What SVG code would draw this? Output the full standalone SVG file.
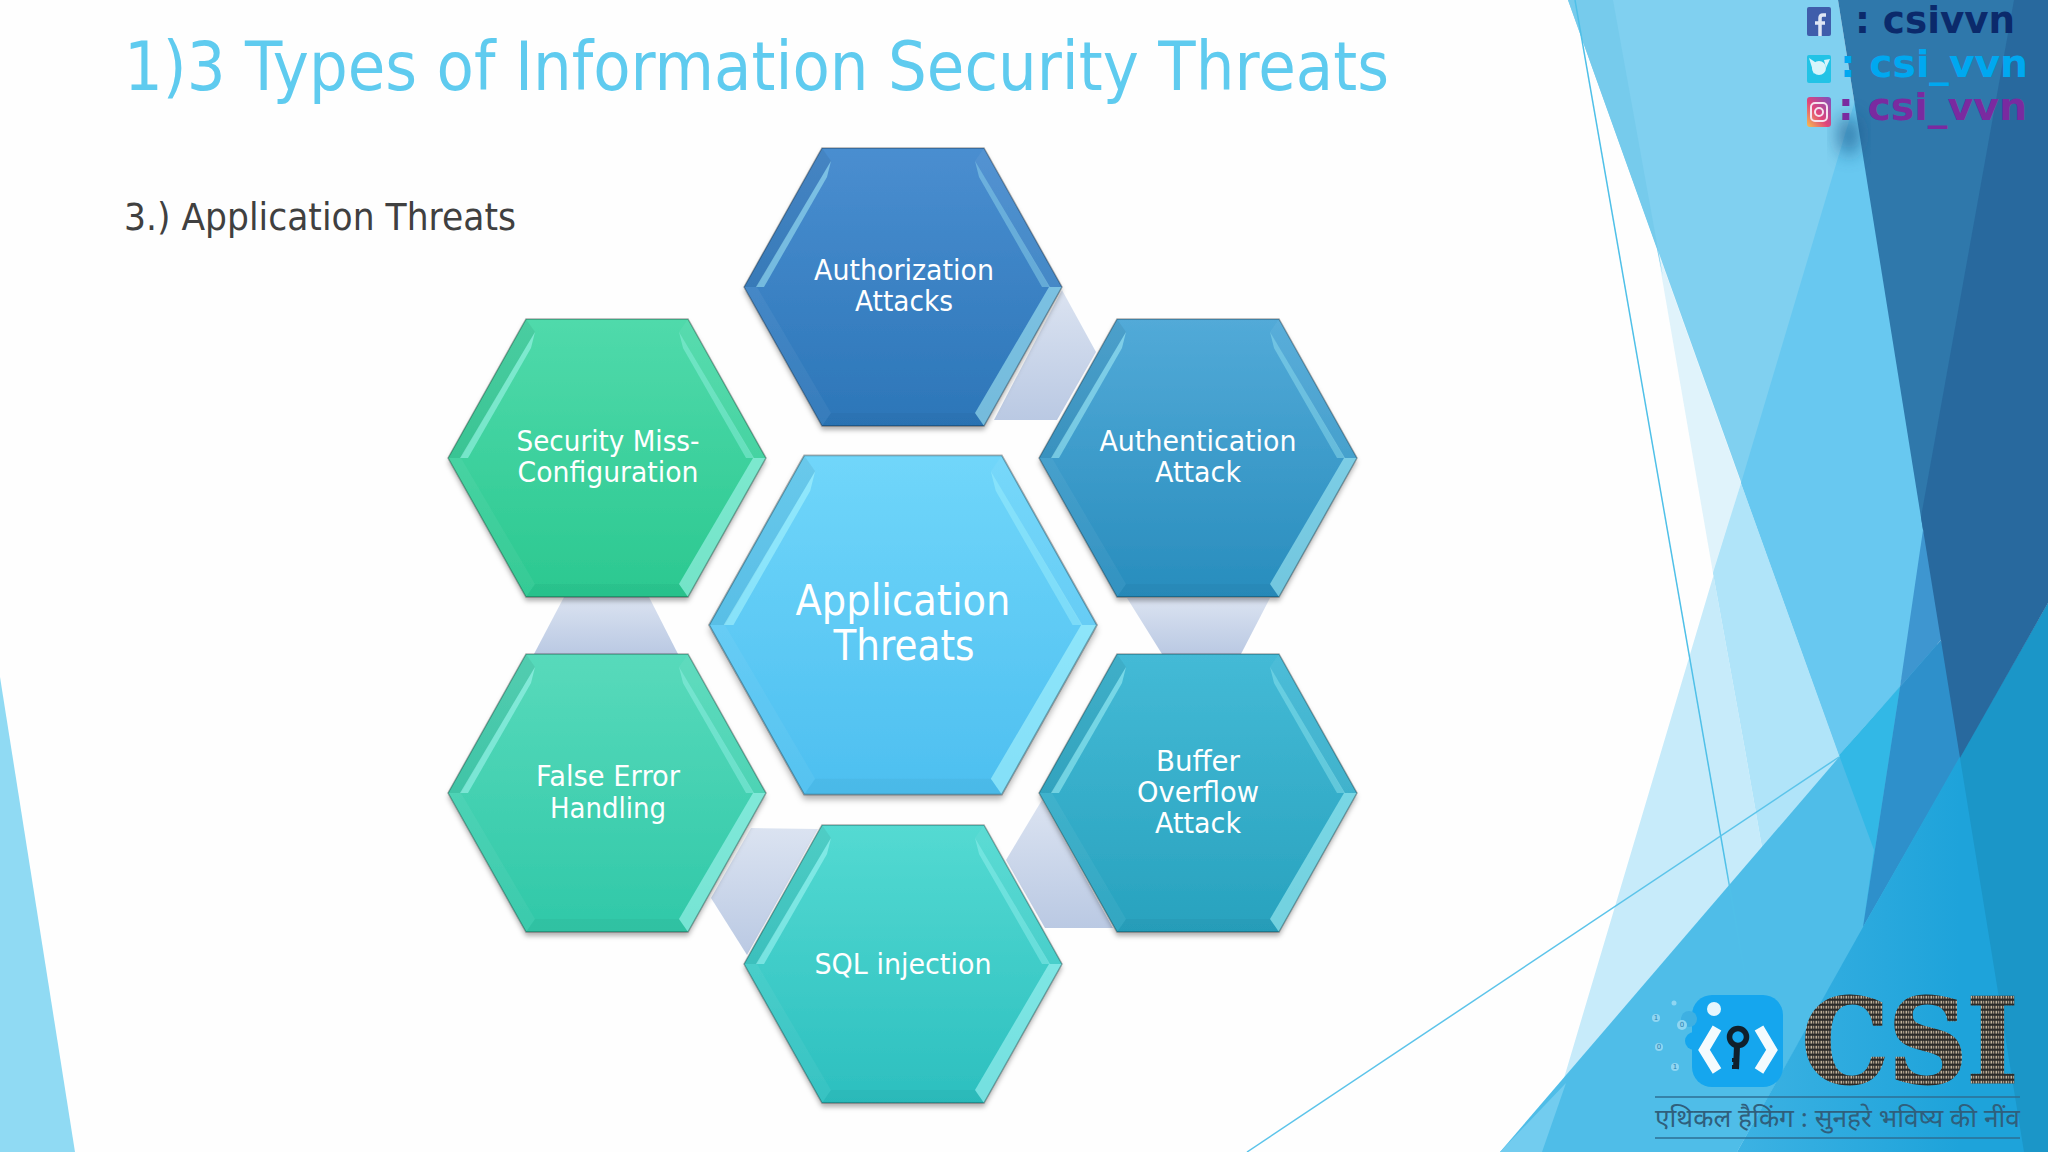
<svg xmlns="http://www.w3.org/2000/svg" width="2048" height="1152" viewBox="0 0 2048 1152">
<style>
.t{font-family:"DejaVu Sans",sans-serif;text-anchor:middle;fill:#fff;font-size:28px}
.c{font-size:42px}
.s{font-family:"DejaVu Sans",sans-serif;font-weight:700;font-size:38px}
.d{font-family:"DejaVu Sans",sans-serif;font-size:7px;text-anchor:middle;fill:#2a7fb0}
.w{fill:url(#wedge)}
.bit{fill:#8fd6f2}
</style>
<defs>
<linearGradient id="wedge" x1="0" y1="0" x2="0" y2="1"><stop offset="0" stop-color="#dbe3f1"/><stop offset="1" stop-color="#bac9e3"/></linearGradient>
<linearGradient id="gA" x1="0" y1="0" x2="0" y2="1"><stop offset="0" stop-color="#4a8ed0"/><stop offset="1" stop-color="#2c76b8"/></linearGradient>
<linearGradient id="gB" x1="0" y1="0" x2="0" y2="1"><stop offset="0" stop-color="#52aad8"/><stop offset="1" stop-color="#288dbd"/></linearGradient>
<linearGradient id="gC" x1="0" y1="0" x2="0" y2="1"><stop offset="0" stop-color="#44bad6"/><stop offset="1" stop-color="#28a2be"/></linearGradient>
<linearGradient id="gD" x1="0" y1="0" x2="0" y2="1"><stop offset="0" stop-color="#54dad2"/><stop offset="1" stop-color="#2cbfbf"/></linearGradient>
<linearGradient id="gE" x1="0" y1="0" x2="0" y2="1"><stop offset="0" stop-color="#58dabb"/><stop offset="1" stop-color="#30c8a8"/></linearGradient>
<linearGradient id="gF" x1="0" y1="0" x2="0" y2="1"><stop offset="0" stop-color="#50daab"/><stop offset="1" stop-color="#2bc890"/></linearGradient>
<linearGradient id="gG" x1="0" y1="0" x2="0" y2="1"><stop offset="0" stop-color="#70d6fa"/><stop offset="1" stop-color="#4dbff0"/></linearGradient>
<linearGradient id="ig" x1="0" y1="1" x2="1" y2="0"><stop offset="0" stop-color="#f6c050"/><stop offset=".45" stop-color="#e0457a"/><stop offset="1" stop-color="#7a50c0"/></linearGradient>
<linearGradient id="fade" gradientUnits="userSpaceOnUse" x1="1575" y1="0" x2="1750" y2="1004"><stop offset="0" stop-color="#4fc0e8"/><stop offset=".86" stop-color="#4fc0e8"/><stop offset="1" stop-color="#4fc0e8" stop-opacity="0"/></linearGradient>
<linearGradient id="low" gradientUnits="userSpaceOnUse" x1="1737" y1="1000" x2="1960" y2="1000"><stop offset="0" stop-color="#3cb2e3"/><stop offset="1" stop-color="#1ea3da"/></linearGradient>
<pattern id="bin" width="5" height="5" patternUnits="userSpaceOnUse"><rect width="5" height="5" fill="#2b2a28"/><rect x=".5" y=".8" width="1.7" height="2.8" fill="#c2b39c"/><rect x="3" y=".8" width="1.3" height="2.8" fill="#a09381"/></pattern>
<filter id="sh" x="-10%" y="-10%" width="120%" height="120%"><feDropShadow dx="0" dy="4" stdDeviation="2.5" flood-color="#000" flood-opacity=".3"/></filter>
<filter id="bl" x="-50%" y="-50%" width="200%" height="200%"><feGaussianBlur stdDeviation="9"/></filter>
<g id="bevel">
<polygon points="-159,0 -81,-139 -72,-126 -146,0" fill="#000" fill-opacity=".06"/>
<polygon points="-147,0 -72,-126 -76,-110 -139,0" fill="#bff" fill-opacity=".45"/>
<polygon points="147,0 72,-126 76,-110 139,0" fill="#bff" fill-opacity=".32"/>
<polygon points="81,-139 159,0 146,0 72,-126" fill="#fff" fill-opacity=".05"/>
<polygon points="159,0 81,139 72,126 146,0" fill="#bff" fill-opacity=".5"/>
<polygon points="-159,0 -81,139 -72,126 -146,0" fill="#fff" fill-opacity=".05"/>
<polygon points="-81,139 81,139 72,126 -72,126" fill="#000" fill-opacity=".03"/>
<polygon points="-159,0 -81,-139 81,-139 159,0 81,139 -81,139" fill="none" stroke="#000" stroke-opacity=".3" stroke-width="1.5"/>
</g>
<polygon id="hx" points="-159,0 -81,-139 81,-139 159,0 81,139 -81,139"/>
</defs>
<rect width="2048" height="1152" fill="#fefefe"/>
<g id="background">
<polygon points="0,677 0,1152 75,1152" fill="#90daf3"/>
<polygon points="1657,249 1741,483 1713,573" fill="#e0f3fb"/>
<polygon points="1741,483 1542,1152 1815,1152 1745,750 1713,573" fill="#c7ebfa"/>
<polygon points="1713,573 1741,483 1839,755 1880,880 1815,1152 1745,750" fill="#b0e4f9"/>
<polygon points="1568,0 1838,0 1923,530 1900,687 1839,755" fill="#80d0f0"/>
<polygon points="1568,0 1613,0 1663,277 1657,249" fill="#76cbec"/>
<polygon points="1885,0 1930,530 1900,687 1839,755 1741,483" fill="#68c8f0"/>
<polygon points="1500,1152 1937,643 1960,758 1737,1152" fill="#4fbde8"/>
<polygon points="1500,1152 1566,1083 1542,1152" fill="#72ccef"/>
<polygon points="1839,755 1900,687 1863,927 1874,850" fill="#32b8e6"/>
<polygon points="1923,530 1950,610 1941,640 1900,687" fill="#3e96d0"/>
<polygon points="1900,687 1941,640 1975,730 1960,758 1863,927" fill="#2e90cb"/>
<polygon points="1975,730 1863,927 1737,1152 2024,1152 2048,1152 2048,603" fill="url(#low)"/>
<polygon points="2048,603 1960,758 2024,1152 2048,1152" fill="#1b96c8"/>
<polygon points="1838,0 2030,0 1950,530 1923,530" fill="#2f78ab"/>
<polygon points="2014,0 2048,0 2048,603 1960,758 1921,517" fill="#28699e"/>
<ellipse cx="1849" cy="135" rx="11" ry="20" fill="#1d5a8c" opacity=".7" filter="url(#bl)"/>
<line x1="1575" y1="0" x2="1750" y2="1004" stroke="url(#fade)" stroke-width="1.5"/>
<line x1="1247" y1="1152" x2="1839" y2="757" stroke="#5cc4ea" stroke-width="1.5"/>
</g>
<text id="title" x="124" y="90" font-family="'DejaVu Sans',sans-serif" font-size="67" fill="#5fcbef" textLength="1265" lengthAdjust="spacingAndGlyphs">1)3 Types of Information Security Threats</text>
<text id="subtitle" x="124" y="230" font-family="'DejaVu Sans',sans-serif" font-size="37" fill="#404040" textLength="392" lengthAdjust="spacingAndGlyphs">3.) Application Threats</text>
<g id="connectors">
<polygon class="w" points="1062,290 1096,352 1057,420 994,420"/>
<polygon class="w" points="1127,598 1162,654 1241,654 1270,598"/>
<polygon class="w" points="1042,800 1006,860 1045,928 1113,928"/>
<polygon class="w" points="711,898 747,955 818,829 751,828"/>
<polygon class="w" points="564,597 649,597 678,654 534,654"/>
</g>
<g id="node-application-threats"><g transform="translate(903 625) scale(1.22)"><use href="#hx" fill="url(#gG)" filter="url(#sh)"/><use href="#bevel"/></g>
<text class="t c" x="903" y="615" textLength="215" lengthAdjust="spacingAndGlyphs">Application</text><text class="t c" x="904" y="660" textLength="141" lengthAdjust="spacingAndGlyphs">Threats</text></g>
<g id="node-authorization"><g transform="translate(903 287)"><use href="#hx" fill="url(#gA)" filter="url(#sh)"/><use href="#bevel"/></g>
<text class="t" x="904" y="280" textLength="180" lengthAdjust="spacingAndGlyphs">Authorization</text><text class="t" x="904" y="311" textLength="98" lengthAdjust="spacingAndGlyphs">Attacks</text></g>
<g id="node-authentication"><g transform="translate(1198 458)"><use href="#hx" fill="url(#gB)" filter="url(#sh)"/><use href="#bevel"/></g>
<text class="t" x="1198" y="451" textLength="197" lengthAdjust="spacingAndGlyphs">Authentication</text><text class="t" x="1198" y="482" textLength="86" lengthAdjust="spacingAndGlyphs">Attack</text></g>
<g id="node-buffer"><g transform="translate(1198 793)"><use href="#hx" fill="url(#gC)" filter="url(#sh)"/><use href="#bevel"/></g>
<text class="t" x="1198" y="771" textLength="84" lengthAdjust="spacingAndGlyphs">Buffer</text><text class="t" x="1198" y="802" textLength="122" lengthAdjust="spacingAndGlyphs">Overflow</text><text class="t" x="1198" y="833" textLength="86" lengthAdjust="spacingAndGlyphs">Attack</text></g>
<g id="node-sql"><g transform="translate(903 964)"><use href="#hx" fill="url(#gD)" filter="url(#sh)"/><use href="#bevel"/></g>
<text class="t" x="903" y="974" textLength="177" lengthAdjust="spacingAndGlyphs">SQL injection</text></g>
<g id="node-false-error"><g transform="translate(607 793)"><use href="#hx" fill="url(#gE)" filter="url(#sh)"/><use href="#bevel"/></g>
<text class="t" x="608" y="786" textLength="144" lengthAdjust="spacingAndGlyphs">False Error</text><text class="t" x="608" y="818" textLength="116" lengthAdjust="spacingAndGlyphs">Handling</text></g>
<g id="node-security"><g transform="translate(607 458)"><use href="#hx" fill="url(#gF)" filter="url(#sh)"/><use href="#bevel"/></g>
<text class="t" x="608" y="451" textLength="183" lengthAdjust="spacingAndGlyphs">Security Miss-</text><text class="t" x="608" y="482" textLength="181" lengthAdjust="spacingAndGlyphs">Configuration</text></g>
<g id="social">
<rect x="1807" y="7" width="24" height="29" rx="2" fill="#3f5dab"/>
<path d="M1826 15h-3q-3 0-3 3v18M1815 23h10" fill="none" stroke="#dfe6f5" stroke-width="3.5"/>
<rect x="1807" y="55" width="24" height="28" rx="2" fill="#22c3e6"/>
<ellipse cx="1819" cy="68" rx="7" ry="7" fill="#d8f5fb"/><polygon points="1809,58 1818,64 1814,74" fill="#d8f5fb"/><polygon points="1824,60 1830,59 1826,68" fill="#d8f5fb"/>
<rect x="1807" y="97" width="24" height="30" rx="3" fill="url(#ig)"/>
<rect x="1811" y="103" width="16" height="18" rx="4" fill="none" stroke="#f5e4ee" stroke-width="2"/><circle cx="1819" cy="112" r="4" fill="none" stroke="#f5e4ee" stroke-width="2"/>
<text class="s" x="1855" y="33" fill="#0b2a6b" textLength="160" lengthAdjust="spacingAndGlyphs">: csivvn</text>
<text class="s" x="1840" y="77" fill="#00a8f0" textLength="188" lengthAdjust="spacingAndGlyphs">: csi_vvn</text>
<text class="s" x="1838" y="120" fill="#7a2aa0" textLength="189" lengthAdjust="spacingAndGlyphs">: csi_vvn</text>
</g>
<g id="logo">
<rect x="1692" y="995" width="91" height="92" rx="20" fill="#15a6ee"/>
<circle cx="1694" cy="1041" r="9" fill="#15a6ee"/>
<circle cx="1689" cy="1019" r="8" fill="#3eb0e2"/>
<circle cx="1714" cy="1009" r="7" fill="#e6f6fd"/>
<polyline points="1717,1028 1704,1050 1717,1071" fill="none" stroke="#f4fbfe" stroke-width="10"/>
<polyline points="1759,1028 1772,1050 1759,1071" fill="none" stroke="#f4fbfe" stroke-width="10"/>
<circle cx="1738" cy="1037" r="8.5" fill="none" stroke="#10202c" stroke-width="5.5"/>
<line x1="1737" y1="1046" x2="1736" y2="1069" stroke="#10202c" stroke-width="6"/>
<line x1="1732" y1="1060" x2="1738" y2="1060" stroke="#10202c" stroke-width="4"/>
<line x1="1732" y1="1067" x2="1738" y2="1067" stroke="#10202c" stroke-width="4"/>
<circle class="bit" cx="1656" cy="1018" r="4"/><circle class="bit" cx="1682" cy="1025" r="5"/><circle class="bit" cx="1659" cy="1047" r="4"/><circle class="bit" cx="1675" cy="1067" r="4"/><circle class="bit" cx="1674" cy="1003" r="2.5"/>
<text class="d" x="1656" y="1020">1</text><text class="d" x="1682" y="1027">0</text><text class="d" x="1659" y="1049">0</text><text class="d" x="1675" y="1069">1</text>
<text x="1802" y="1082" font-family="'DejaVu Serif',serif" font-weight="700" font-size="116" fill="url(#bin)" stroke="url(#bin)" stroke-width="3" textLength="216" lengthAdjust="spacingAndGlyphs">CSI</text>
<line x1="1655" y1="1097" x2="2020" y2="1097" stroke="#2c6f94" stroke-width="1.5"/>
<line x1="1655" y1="1138" x2="2020" y2="1138" stroke="#2c6f94" stroke-width="1.5"/>
<text x="1655" y="1127" font-family="'Noto Sans','Noto Serif Devanagari','Noto Sans Devanagari',sans-serif" font-size="25" fill="#2f5f7c" textLength="365" lengthAdjust="spacingAndGlyphs">एथिकल हैकिंग : सुनहरे भविष्य की नींव</text>
</g>
</svg>
